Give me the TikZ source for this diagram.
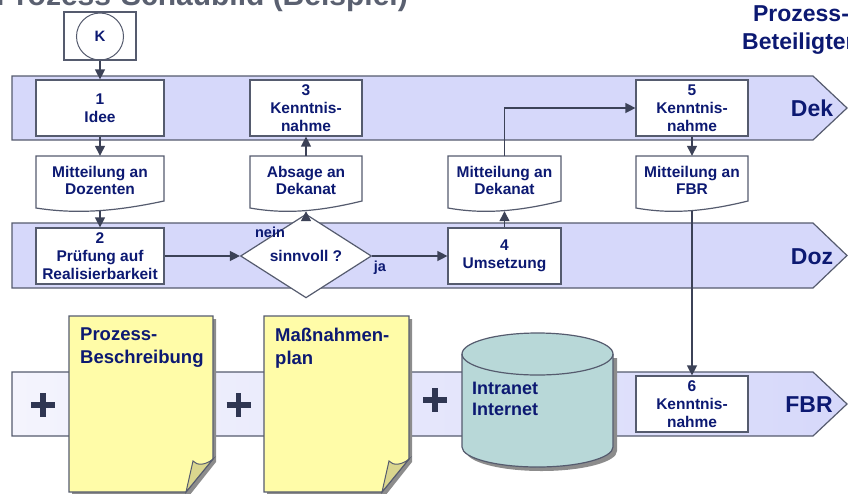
\documentclass[tikz,border=0pt]{standalone}
\usepackage{fontspec}
\setmainfont{Liberation Sans}
\usetikzlibrary{arrows.meta,shapes.geometric,calc}
\definecolor{navy}{HTML}{0C1972}
\definecolor{lanefill}{HTML}{D6D8FA}
\definecolor{lanelight}{HTML}{F4F4FD}
\definecolor{edgegray}{HTML}{555B6E}
\definecolor{linecol}{HTML}{3C4257}
\definecolor{noteyellow}{HTML}{FFFCA8}
\definecolor{curlcol}{HTML}{DAD68E}
\definecolor{cylfill}{HTML}{B8D8D8}
\definecolor{shadowgray}{HTML}{8C8C8C}
\definecolor{plusdark}{HTML}{2F3652}
\definecolor{titlegray}{HTML}{5A6070}
\tikzset{
  lane/.style={draw=edgegray, line width=1.2pt, fill=lanefill},
  stepbox/.style={draw=edgegray, line width=1.2pt, fill=white, inner sep=0pt, align=center,
    text=navy, font=\bfseries\fontsize{15.5}{18}\selectfont},
  docnode/.style={inner sep=0pt, align=center, minimum height=49pt, text=navy,
    font=\bfseries\fontsize{15.5}{17}\selectfont},
  docshape/.style={draw=edgegray, line width=1.2pt, fill=white},
  arr/.style={draw=linecol, line width=1.3pt, -{Triangle[length=10pt,width=10pt]}},
  lanelabel/.style={text=navy, font=\bfseries\fontsize{23}{28}\selectfont},
  smalllabel/.style={text=navy, font=\bfseries\fontsize{14.5}{17}\selectfont},
  notestyle/.style={draw=edgegray, line width=1.2pt, fill=noteyellow},
  curlstyle/.style={draw=edgegray, line width=1pt, fill=curlcol},
  notetext/.style={anchor=north west, inner sep=0pt, align=left, text=navy,
    font=\bfseries\fontsize{18.5}{23}\selectfont},
  plusstyle/.style={draw=plusdark, line width=5.5pt},
}
\newcommand{\mydoc}[4]{%
  \draw[docshape] (#2,156) -- (#3,156) -- (#3,201)
    .. controls ({#2+0.6*(#3-#2)},212) and ({#2+0.3*(#3-#2)},214) .. (#2,208) -- cycle;
  \node[docnode] (#1) at ({(#2+#3)/2},180.5) {#4};
}
\newcommand{\mynote}[3]{%
  \fill[shadowgray] (#1+3,319) -- (#2+3,319) -- (#2+3,462) -- (#2-24,496) -- (#1+3,496) -- cycle;
  \draw[notestyle] (#1,316) -- (#2,316) -- (#2,459) -- (#2-27,492) -- (#1,492) -- cycle;
  \draw[curlstyle] (#2-27,492) -- (#2-20,461) .. controls (#2-16,466) and (#2-7,465) .. (#2,459) -- cycle;
  \node[notetext] at (#1+11,328) {#3};
}
\begin{document}
\begin{tikzpicture}[x=1pt,y=-1pt]
\useasboundingbox (0,0) rectangle (848,493);
\clip (0,0) rectangle (848,493);

% title (cut off at the top, as in the reference)
\node[anchor=base east, inner sep=0pt, text=titlegray, font=\bfseries\fontsize{30}{36}\selectfont] (title) at (408,5) {Prozess-Schaubild (Beispiel)};
\node[anchor=north, inner sep=0pt, align=center, text=navy, font=\bfseries\fontsize{23}{28}\selectfont] (beteiligte) at (801,5) {Prozess-\\Beteiligten};

% lanes
\draw[lane] (12,76) -- (813,76) -- (847,108) -- (813,140) -- (12,140) -- cycle;
\draw[lane] (12,223) -- (813,223) -- (847,255.5) -- (813,288) -- (12,288) -- cycle;
\draw[draw=edgegray, line width=1.2pt, left color=lanelight, right color=lanefill]
  (12,372) -- (813,372) -- (847,404) -- (813,436) -- (12,436) -- cycle;

\node[lanelabel] (dek) at (812,108) {Dek};
\node[lanelabel] (doz) at (812,257) {Doz};
\node[lanelabel] (fbr) at (809,405) {FBR};

% start
\node[draw=edgegray, line width=1.2pt, fill=white, minimum width=72pt, minimum height=48pt, inner sep=0pt] (krect) at (100,36) {};
\node[draw=edgegray, line width=1pt, circle, minimum size=47pt, inner sep=0pt, text=navy, font=\bfseries\fontsize{15}{18}\selectfont] (k) at (100,36.5) {K};

% steps
\node[stepbox, minimum width=128pt, minimum height=56pt] (b1) at (100,108) {1\\Idee};
\node[stepbox, minimum width=112pt, minimum height=56pt] (b3) at (306,108) {3\\Kenntnis-\\nahme};
\node[stepbox, minimum width=112pt, minimum height=56pt] (b5) at (692,108) {5\\Kenntnis-\\nahme};
\node[stepbox, minimum width=128pt, minimum height=56pt] (b2) at (100,256) {2\\Prüfung auf\\Realisierbarkeit};
\node[stepbox, minimum width=113pt, minimum height=56pt] (b4) at (504.5,256) {4\\Umsetzung};
\node[stepbox, minimum width=112pt, minimum height=56pt] (b6) at (692,404) {6\\Kenntnis-\\nahme};
\node[draw=edgegray, line width=1.2pt, fill=white, diamond, minimum width=131pt, minimum height=56pt, inner sep=0pt,
  text=navy, font=\bfseries\fontsize{15.5}{18}\selectfont] (dia) at (306,256) {sinnvoll ?};
\node[smalllabel] (nein) at (270,232) {nein};
\node[smalllabel] (ja) at (380,268) {ja};

% documents
\mydoc{d1}{36}{164}{Mitteilung an\\Dozenten}
\mydoc{d2}{250}{362}{Absage an\\Dekanat}
\mydoc{d3}{448}{561}{Mitteilung an\\Dekanat}
\mydoc{d4}{636}{748}{Mitteilung an\\FBR}

% connectors
\draw[arr] (krect.south) -- (b1.north);
\draw[arr] (b1.south) -- (d1.north);
\draw[arr] ([yshift=-6pt]d1.south) -- (b2.north);
\draw[arr] (b2.east) -- (dia.west);
\draw[arr] (dia.east) -- (b4.west);
\draw[arr] (dia.north) -- ([yshift=-6pt]d2.south);
\draw[arr] (d2.north) -- (b3.south);
\draw[arr] (b4.north) -- ([yshift=-6pt]d3.south);
\draw[arr] (d3.north) |- (b5.west);
\draw[arr] (b5.south) -- (d4.north);
\draw[arr] ([yshift=-6pt]d4.south) -- (b6.north);

% plus signs
\draw[plusstyle] (31,405) -- (55,405) (43,393) -- (43,417);
\draw[plusstyle] (226.5,405) -- (250.5,405) (238.5,393) -- (238.5,417);
\draw[plusstyle] (423,400) -- (447,400) (435,388) -- (435,412);

% notes
\mynote{69}{213}{Prozess-\\Beschreibung}
\mynote{264}{409}{Maßnahmen-\\plan}

% database cylinder
\begin{scope}[shift={(4,4)}]
\fill[shadowgray] (462,354) -- (462,447) .. controls (462,458) and (495.8,467) .. (537.5,467)
  .. controls (579.2,467) and (613,458) .. (613,447) -- (613,354) -- cycle;
\end{scope}
\draw[draw=edgegray, line width=1.2pt, fill=cylfill]
  (462,354) -- (462,447) .. controls (462,458) and (495.8,467) .. (537.5,467)
  .. controls (579.2,467) and (613,458) .. (613,447) -- (613,354)
  .. controls (613,342.4) and (579.2,333) .. (537.5,333)
  .. controls (495.8,333) and (462,342.4) .. (462,354) -- cycle;
\draw[draw=edgegray, line width=1.2pt]
  (462,354) .. controls (462,365.6) and (495.8,375) .. (537.5,375)
  .. controls (579.2,375) and (613,365.6) .. (613,354);
\node[anchor=north west, inner sep=0pt, align=left, text=navy, font=\bfseries\fontsize{18}{21}\selectfont] (net) at (472,382) {Intranet\\Internet};
\end{tikzpicture}
\end{document}
